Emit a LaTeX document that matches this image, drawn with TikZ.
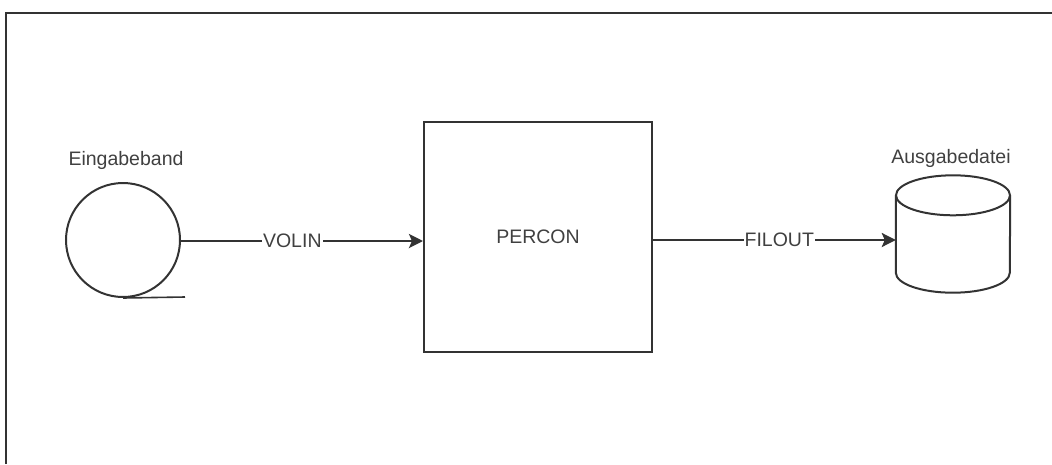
\documentclass[tikz,border=0pt]{standalone}
\usepackage{fontspec}
\setmainfont{Liberation Sans}
\usetikzlibrary{arrows.meta}
\begin{document}
\begin{tikzpicture}[x=1pt,y=-1pt,
  line/.style={draw=black!80, line width=2pt},
  conn/.style={draw=black!80, line width=2.6pt, -{Stealth[length=14pt,width=14pt,inset=3pt]}},
  lbl/.style={font=\fontsize{19.5}{23}\selectfont, text=black!75},
  mid/.style={lbl, fill=white, inner sep=1pt}]
\useasboundingbox (0,0) rectangle (1052,464);
\coordinate (fbl) at (6,464);
\coordinate (ftl) at (6,13);
\coordinate (ftr) at (1052,13);
\draw[line] (fbl) -- (ftl) -- (ftr);
% tape
\node[circle, line, minimum size=114pt, inner sep=0pt] (tape) at (123,240) {};
\draw[line, line width=1.6pt] (tape.south) -- ++(62,-1);
\node[lbl] (tapelbl) at (126,160) {Eingabeband};
% program
\node[rectangle, line, minimum width=228pt, minimum height=230pt, inner sep=0pt, lbl] (prog) at (538,237) {PERCON};
% disk
\node[rectangle, minimum width=114pt, minimum height=117pt, inner sep=0pt] (db) at (953,234) {};
\draw[line] (db.north) ++(0,20) ellipse [x radius=57pt, y radius=20pt];
\draw[line] ([yshift=-20pt]db.north west) -- ([yshift=20pt]db.south west)
  arc[start angle=180, end angle=360, x radius=57pt, y radius=20pt]
  -- ([yshift=-20pt]db.north east);
\node[lbl] (dblbl) at (951,158) {Ausgabedatei};
% connectors
\draw[conn] (tape.east |- 0,241) -- node[mid, pos=0.46] (volin) {VOLIN} (prog.west |- 0,241);
\draw[conn] (prog.east |- 0,240) -- node[mid, pos=0.52] (filout) {FILOUT} (db.west |- 0,240);
\end{tikzpicture}
\end{document}
